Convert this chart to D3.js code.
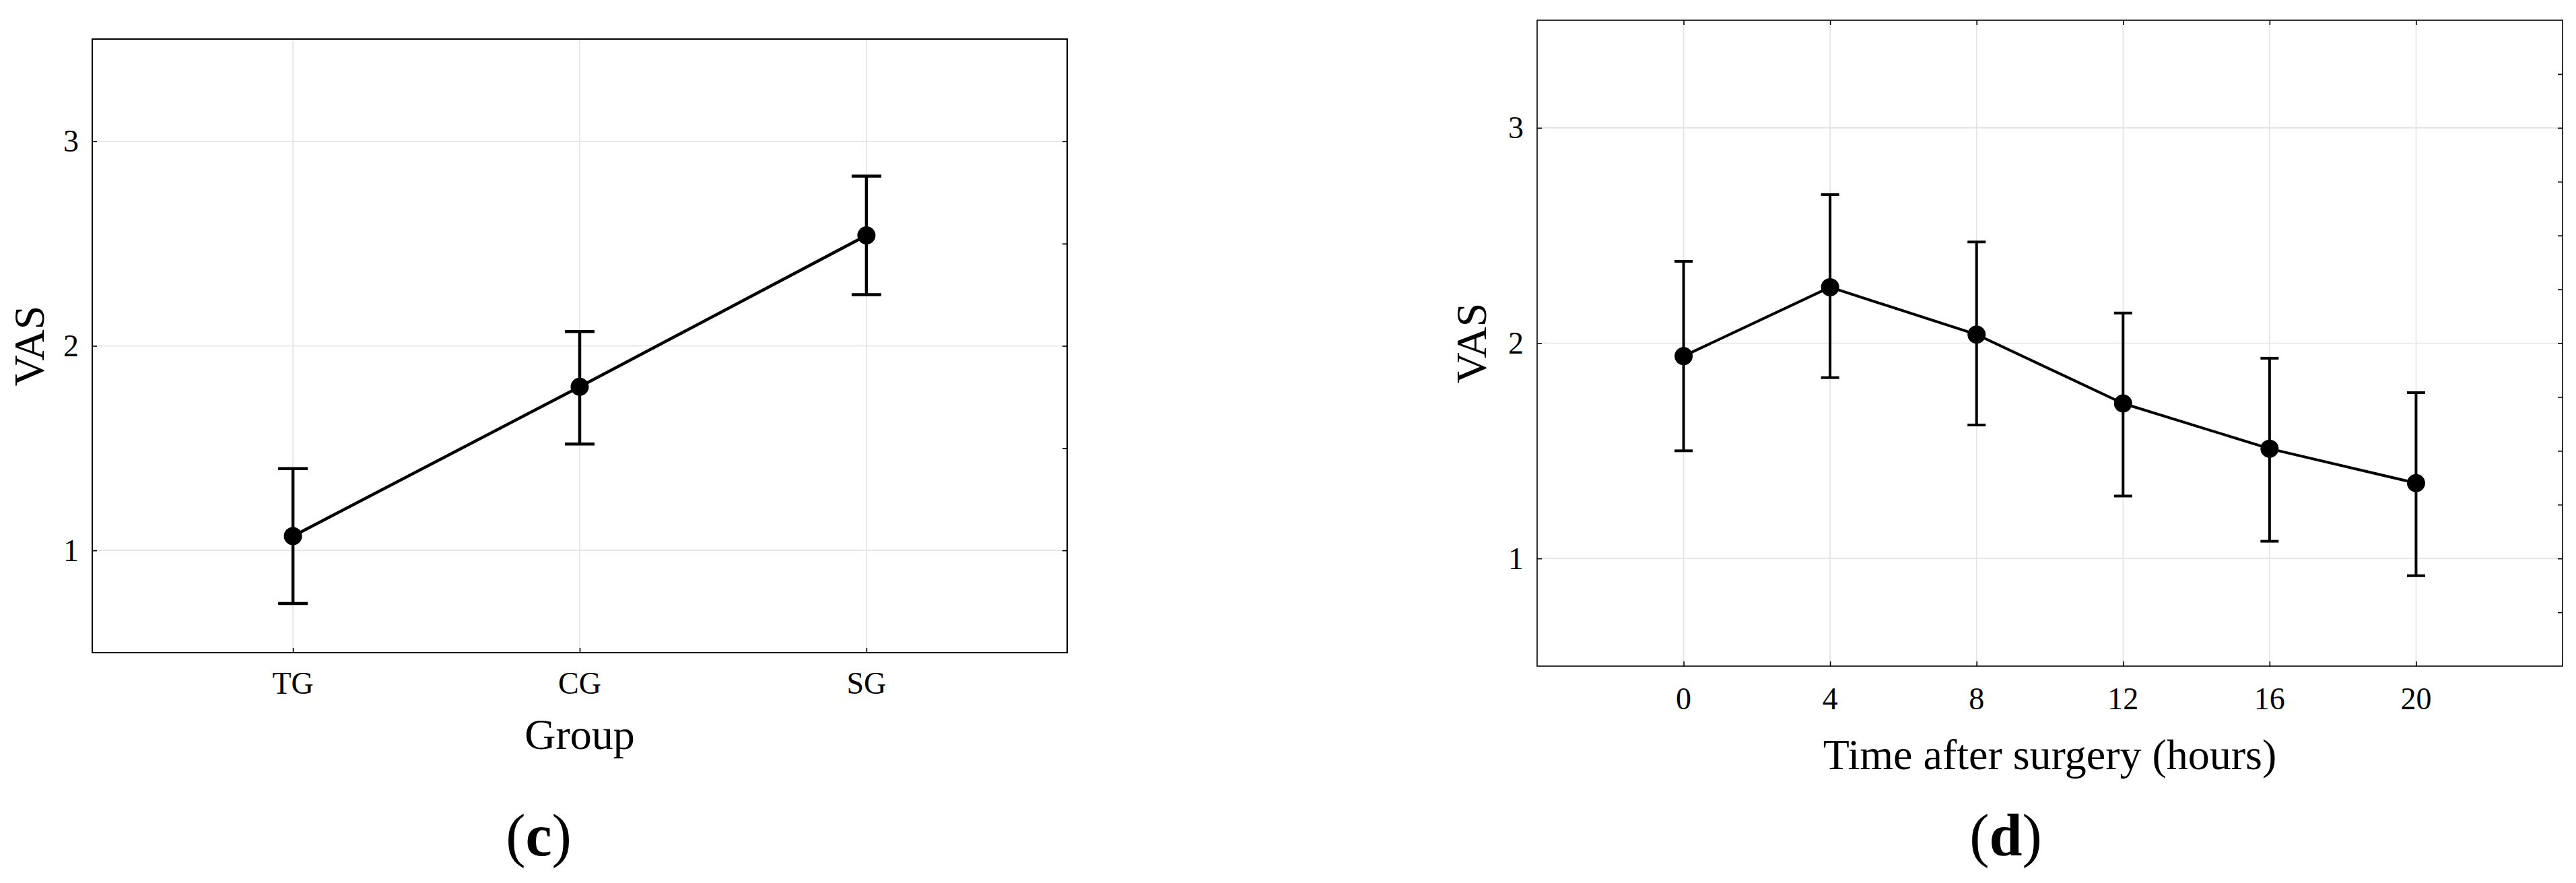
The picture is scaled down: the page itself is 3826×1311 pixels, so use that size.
<!DOCTYPE html>
<html>
<head>
<meta charset="utf-8">
<script src="https://cdn.jsdelivr.net/npm/d3@7"></script>
<style>
  html, body { margin: 0; padding: 0; background: #fff; }
  svg { display: block; }
  text { font-family: "Liberation Serif", "Times New Roman", serif; fill: #000; }
</style>
</head>
<body>
<svg id="chart" width="3826" height="1311"></svg>
<script>
// ---- Data ----
const groups = ["TG", "CG", "SG"];
const groupMean  = [1.07, 1.80, 2.54];
const groupUpper = [1.40, 2.07, 2.83];
const groupLower = [0.74, 1.52, 2.25];

const hours = [0, 4, 8, 12, 16, 20];
const hourMean  = [1.94, 2.26, 2.04, 1.72, 1.51, 1.35];
const hourUpper = [2.38, 2.69, 2.47, 2.14, 1.93, 1.77];
const hourLower = [1.50, 1.84, 1.62, 1.29, 1.08, 0.92];

const yTicks = [1, 2, 3];
const yMinorC = [1, 1.5, 2, 2.5, 3];
const yMinorD = [0.75, 1, 1.25, 1.5, 1.75, 2, 2.25, 2.5, 2.75, 3, 3.25];

const yLabel = "VAS";
const xLabelC = "Group";
const xLabelD = "Time after surgery (hours)";
const panelLabels = ["c", "d"];

// ---- Drawing ----
const svg = d3.select("#chart");
svg.append("rect").attr("width", 3826).attr("height", 1311).attr("fill", "#fff");

function drawPanel(cfg) {
  const g = svg.append("g");
  const { L, R, T, B, x, xVals, xFmt, y, mean, upper, lower } = cfg;
  const gridColor = "#e3e3e3";

  // grid lines
  g.selectAll(".hg").data(yTicks).join("line")
    .attr("x1", L).attr("x2", R)
    .attr("y1", d => y(d)).attr("y2", d => y(d))
    .attr("stroke", gridColor).attr("stroke-width", 1.6);
  g.selectAll(".vg").data(xVals).join("line")
    .attr("x1", d => x(d)).attr("x2", d => x(d))
    .attr("y1", T).attr("y2", B)
    .attr("stroke", gridColor).attr("stroke-width", 1.6);

  // inward ticks
  const tickStyle = sel => {
    sel.select(".domain").remove();
    sel.selectAll(".tick line").attr("stroke", "#000").attr("stroke-width", 1.6);
    sel.selectAll(".tick text").remove();
  };
  g.append("g").attr("transform", `translate(${L},0)`)
    .call(d3.axisLeft(y).tickValues(yTicks).tickSize(-7).tickFormat(""))
    .call(tickStyle);
  g.append("g").attr("transform", `translate(${R},0)`)
    .call(d3.axisRight(y).tickValues(cfg.rightTicks).tickSize(-7).tickFormat(""))
    .call(tickStyle);
  g.append("g").attr("transform", `translate(0,${B})`)
    .call(d3.axisBottom(x).tickValues(xVals).tickSize(-7).tickFormat(""))
    .call(tickStyle);
  if (cfg.topTicks) {
    g.append("g").attr("transform", `translate(0,${T})`)
      .call(d3.axisTop(x).tickValues(xVals).tickSize(-7).tickFormat(""))
      .call(tickStyle);
  }

  // frame
  g.append("rect").attr("x", L).attr("y", T).attr("width", R - L).attr("height", B - T)
    .attr("fill", "none").attr("stroke", "#000").attr("stroke-width", cfg.frameW);

  // tick labels
  g.selectAll(".yl").data(yTicks).join("text")
    .attr("x", L - 20).attr("y", d => y(d)).attr("dy", "0.34em")
    .attr("text-anchor", "end").attr("font-size", 46)
    .text(d => d);
  g.selectAll(".xl").data(xVals).join("text")
    .attr("x", d => x(d)).attr("y", B + cfg.xLabOff)
    .attr("text-anchor", "middle").attr("font-size", 46)
    .text(xFmt);

  // axis titles
  g.append("text")
    .attr("transform", `translate(${cfg.yTitleX},${(T + B) / 2}) rotate(-90)`)
    .attr("text-anchor", "middle").attr("font-size", 64)
    .text(yLabel);
  g.append("text")
    .attr("x", (L + R) / 2).attr("y", cfg.xTitleY)
    .attr("text-anchor", "middle").attr("font-size", 64)
    .text(cfg.xTitle);

  // panel label
  const pl = g.append("text")
    .attr("x", cfg.labelX).attr("y", 1270)
    .attr("text-anchor", "middle").attr("font-size", 88);
  pl.append("tspan").text("(");
  pl.append("tspan").attr("font-weight", "bold").text(cfg.label);
  pl.append("tspan").text(")");

  // data
  const pts = xVals.map((v, i) => ({ v, m: mean[i], u: upper[i], l: lower[i] }));
  const lw = cfg.lineW;
  g.append("path")
    .attr("d", d3.line().x(d => x(d.v)).y(d => y(d.m))(pts))
    .attr("fill", "none").attr("stroke", "#000").attr("stroke-width", lw)
    .attr("stroke-linejoin", "round");
  g.selectAll(".eb").data(pts).join("line")
    .attr("x1", d => x(d.v)).attr("x2", d => x(d.v))
    .attr("y1", d => y(d.u)).attr("y2", d => y(d.l))
    .attr("stroke", "#000").attr("stroke-width", lw);
  ["u", "l"].forEach(k => {
    g.selectAll(".cap" + k).data(pts).join("line")
      .attr("x1", d => x(d.v) - cfg.capW / 2).attr("x2", d => x(d.v) + cfg.capW / 2)
      .attr("y1", d => y(d[k])).attr("y2", d => y(d[k]))
      .attr("stroke", "#000").attr("stroke-width", lw);
  });
  g.selectAll(".pt").data(pts).join("circle")
    .attr("cx", d => x(d.v)).attr("cy", d => y(d.m)).attr("r", 13.5)
    .attr("fill", "#000");
}

// Panel (c)
{
  const L = 137, R = 1585, T = 58, B = 969;
  const x = d3.scalePoint().domain(groups).range([L, R]).padding(0.7);
  const y = d3.scaleLinear().domain([0.5, 3.5]).range([B, T]);
  drawPanel({
    L, R, T, B, x, y, xVals: groups, xFmt: d => d,
    mean: groupMean, upper: groupUpper, lower: groupLower,
    rightTicks: yMinorC, topTicks: false, frameW: 2,
    xLabOff: 61, yTitleX: 65, xTitleY: 1112, xTitle: xLabelC,
    labelX: 800, label: panelLabels[0], lineW: 4.5, capW: 44
  });
}

// Panel (d)
{
  const L = 2283, R = 3806, T = 30, B = 989;
  const x = d3.scaleLinear().domain([-4, 24]).range([L, R]);
  const y = d3.scaleLinear().domain([0.5, 3.5]).range([B, T]);
  drawPanel({
    L, R, T, B, x, y, xVals: hours, xFmt: d => d,
    mean: hourMean, upper: hourUpper, lower: hourLower,
    rightTicks: yMinorD, topTicks: true, frameW: 1.6,
    xLabOff: 64, yTitleX: 2207, xTitleY: 1142, xTitle: xLabelD,
    labelX: 2979, label: panelLabels[1], lineW: 4, capW: 27
  });
}
</script>
</body>
</html>
